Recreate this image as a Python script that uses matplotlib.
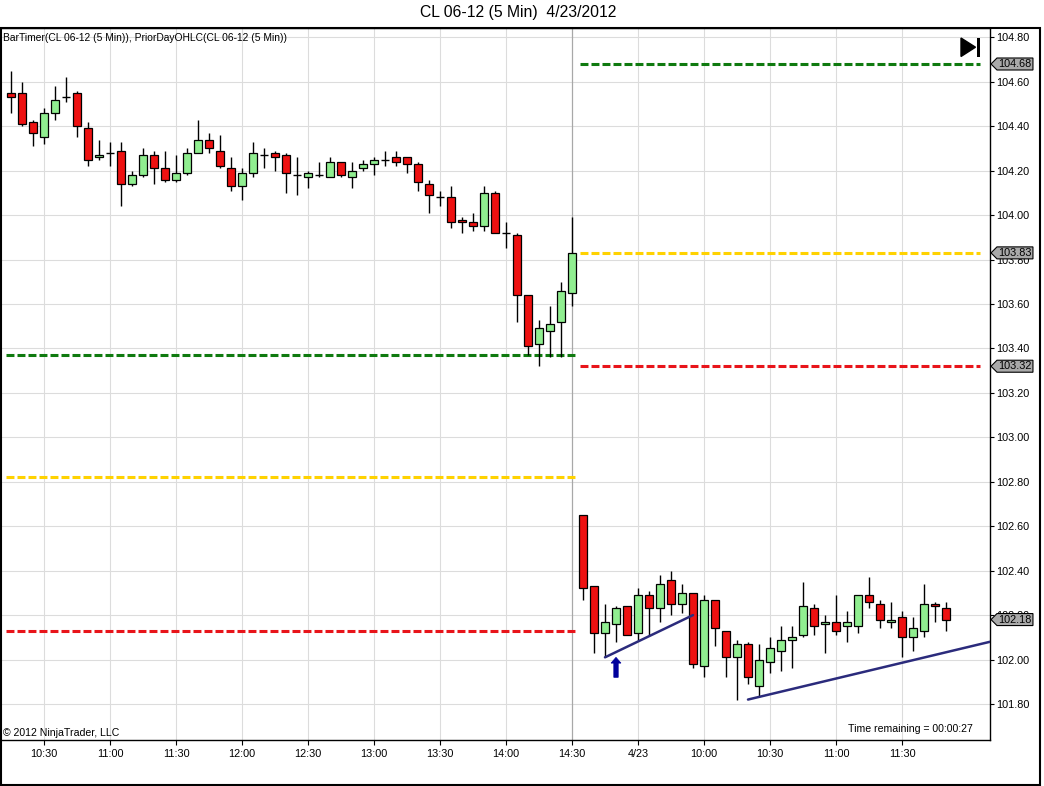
import matplotlib
matplotlib.use("Agg")
import matplotlib.pyplot as plt
import matplotlib.transforms as mtransforms
from matplotlib.patches import Polygon, Rectangle

plt.rcParams['font.family'] = ['Liberation Sans', 'DejaVu Sans']

W, H = 1044, 786

# CL 06-12, 5 min bars: 4/20 from 10:15 to 14:30, 4/23 from 9:05 to 11:50
opens = [104.55, 104.55, 104.42, 104.35, 104.46, 104.53, 104.55, 104.39, 104.26, 104.28,
         104.29, 104.14, 104.18, 104.27, 104.21, 104.16, 104.19, 104.28, 104.34, 104.29,
         104.21, 104.13, 104.19, 104.27, 104.28, 104.27, 104.18, 104.17, 104.18, 104.17,
         104.24, 104.17, 104.21, 104.23, 104.25, 104.26, 104.26, 104.23, 104.14, 104.08,
         104.08, 103.98, 103.97, 103.95, 104.10, 103.92, 103.91, 103.64, 103.42, 103.48,
         103.52, 103.65,
         102.65, 102.33, 102.12, 102.16, 102.24, 102.12, 102.29, 102.23, 102.36, 102.25,
         102.30, 101.97, 102.27, 102.13, 102.01, 102.07, 101.88, 101.99, 102.04, 102.09,
         102.11, 102.23, 102.16, 102.17, 102.15, 102.15, 102.29, 102.25, 102.17, 102.19,
         102.10, 102.13, 102.25, 102.23]
highs = [104.65, 104.60, 104.43, 104.48, 104.58, 104.62, 104.56, 104.42, 104.34, 104.33,
         104.33, 104.20, 104.30, 104.29, 104.29, 104.27, 104.30, 104.43, 104.37, 104.36,
         104.26, 104.21, 104.33, 104.30, 104.29, 104.28, 104.26, 104.20, 104.24, 104.26,
         104.24, 104.24, 104.25, 104.26, 104.29, 104.29, 104.26, 104.24, 104.16, 104.11,
         104.13, 103.99, 104.01, 104.13, 104.11, 103.97, 103.92, 103.64, 103.53, 103.59,
         103.70, 103.99,
         102.65, 102.33, 102.25, 102.24, 102.24, 102.32, 102.31, 102.38, 102.40, 102.34,
         102.30, 102.29, 102.27, 102.13, 102.09, 102.08, 102.07, 102.10, 102.15, 102.15,
         102.35, 102.25, 102.20, 102.29, 102.22, 102.29, 102.37, 102.27, 102.26, 102.22,
         102.19, 102.34, 102.26, 102.26]
lows = [104.46, 104.40, 104.31, 104.32, 104.43, 104.51, 104.35, 104.22, 104.25, 104.22,
        104.04, 104.13, 104.17, 104.14, 104.15, 104.15, 104.18, 104.28, 104.28, 104.21,
        104.11, 104.07, 104.17, 104.21, 104.20, 104.10, 104.09, 104.12, 104.17, 104.17,
        104.17, 104.12, 104.20, 104.18, 104.22, 104.22, 104.19, 104.11, 104.01, 104.04,
        103.94, 103.92, 103.93, 103.93, 103.92, 103.85, 103.52, 103.37, 103.32, 103.36,
        103.36, 103.59,
        102.27, 102.03, 102.01, 102.08, 102.11, 102.09, 102.11, 102.17, 102.20, 102.21,
        101.96, 101.92, 102.06, 101.92, 101.82, 101.89, 101.83, 101.94, 101.95, 101.96,
        102.10, 102.11, 102.03, 102.11, 102.08, 102.12, 102.23, 102.14, 102.14, 102.01,
        102.04, 102.10, 102.17, 102.13]
closes = [104.53, 104.41, 104.37, 104.46, 104.52, 104.53, 104.40, 104.25, 104.27, 104.28,
          104.14, 104.18, 104.27, 104.21, 104.16, 104.19, 104.28, 104.34, 104.30, 104.22,
          104.13, 104.19, 104.28, 104.27, 104.26, 104.19, 104.18, 104.19, 104.18, 104.24,
          104.18, 104.20, 104.23, 104.25, 104.25, 104.24, 104.23, 104.15, 104.09, 104.08,
          103.97, 103.97, 103.95, 104.10, 103.92, 103.92, 103.64, 103.41, 103.49, 103.51,
          103.66, 103.83,
          102.32, 102.12, 102.17, 102.23, 102.11, 102.29, 102.23, 102.34, 102.25, 102.30,
          101.98, 102.27, 102.14, 102.01, 102.07, 101.92, 102.00, 102.05, 102.09, 102.10,
          102.24, 102.15, 102.17, 102.13, 102.17, 102.29, 102.26, 102.18, 102.18, 102.10,
          102.14, 102.25, 102.24, 102.18]

tick_bars = [3, 9, 15, 21, 27, 33, 39, 45, 51, 57, 63, 69, 75, 81]
tick_labels = ["10:30", "11:00", "11:30", "12:00", "12:30", "13:00", "13:30",
               "14:00", "14:30", "4/23", "10:00", "10:30", "11:00", "11:30"]
session_break = 51

# PriorDayOHLC levels (high, close, low) for each session
prior_high = [103.37, 104.68]
prior_close = [102.82, 103.83]
prior_low = [102.13, 103.32]
level_spans = [(-0.5, 51.45), (51.7, 88.1)]

# drawn trend lines and the arrow
trend_lines = [((54, 102.01), (62, 102.20)), ((67, 101.82), (89, 102.08))]
arrow_bar, arrow_tip, arrow_base = 55, 102.01, 101.92

price_marks = [104.68, 103.83, 103.32, 102.18]
y_ticks = [101.80 + 0.2 * k for k in range(16)]

fig = plt.figure(figsize=(W / 100, H / 100), dpi=100)
ax = fig.add_axes([1 / W, 1 - 740 / H, 989 / W, 712 / H])
ax.set_xlim(-0.91, 89.0)
ax.set_ylim(101.638, 104.842)

# grid
for yv in y_ticks:
    ax.axhline(yv, color='#dcdcdc', lw=0.8, zorder=0)
for xb in tick_bars:
    ax.axvline(xb, color='#a8a8a8' if xb == session_break else '#dcdcdc',
               lw=0.9 if xb == session_break else 0.8, zorder=0)

# prior day levels
for k, (x0, x1) in enumerate(level_spans):
    for val, col in ((prior_high[k], '#0f7a0f'), (prior_close[k], '#ffd200'), (prior_low[k], '#e8141a')):
        ax.plot([x0, x1], [val, val], color=col, lw=2.2, dashes=(2.6, 1.0),
                solid_capstyle='butt', dash_capstyle='butt', zorder=1)

# candles
bw = 0.72
for i, (o, h, l, c) in enumerate(zip(opens, highs, lows, closes)):
    ax.vlines(i, l, h, color='black', lw=1, zorder=2)
    if abs(c - o) < 0.001:
        ax.hlines(o, i - bw / 2, i + bw / 2, color='black', lw=1, zorder=3)
    else:
        col = '#90ee90' if c > o else '#ee1111'
        ax.add_patch(Rectangle((i - bw / 2, min(o, c)), bw, abs(c - o),
                               facecolor=col, edgecolor='black', lw=0.9, zorder=3))

for (x0, y0), (x1, y1) in trend_lines:
    ax.plot([x0, x1], [y0, y1], color='#2b2b7c', lw=1.8, zorder=4, solid_capstyle='round')

hw, sw, hl = 0.45, 0.2, 0.026
ax.add_patch(Polygon([(arrow_bar, arrow_tip), (arrow_bar + hw, arrow_tip - hl),
                      (arrow_bar + sw, arrow_tip - hl), (arrow_bar + sw, arrow_base),
                      (arrow_bar - sw, arrow_base), (arrow_bar - sw, arrow_tip - hl),
                      (arrow_bar - hw, arrow_tip - hl)],
                     closed=True, facecolor='#00009c', edgecolor='#00009c', lw=0.5, zorder=4))

# axes styling
ax.yaxis.tick_right()
ax.set_yticks(y_ticks)
ax.set_yticklabels([f"{v:.2f}" for v in y_ticks])
ax.set_xticks(tick_bars)
ax.set_xticklabels(tick_labels)
ax.tick_params(axis='y', direction='out', length=3, width=0.8, pad=1.5, labelsize=7.8)
ax.tick_params(axis='x', direction='out', length=3.5, width=0.8, pad=3, labelsize=7.8)
for s in ax.spines.values():
    s.set_linewidth(1)
ax.spines['left'].set_visible(False)

# price markers on the right axis
blend = mtransforms.blended_transform_factory(ax.transAxes, ax.transData)
dy = 6 / 222.2
for pm in price_marks:
    x_tip, x_l, x_r = 991 / 990, 997 / 990, 1033 / 990
    ax.add_patch(Polygon([(x_tip, pm), (x_l, pm + dy), (x_r, pm + dy), (x_r, pm - dy), (x_l, pm - dy)],
                         closed=True, transform=blend, clip_on=False,
                         facecolor='#a9a9a9', edgecolor='black', lw=0.8, zorder=6))
    ax.text(1015 / 990, pm, f"{pm:.2f}", transform=blend, ha='center', va='center',
            fontsize=7.8, clip_on=False, zorder=7)


def fp(x, y):
    return (x / W, 1 - y / H)


# "jump to last bar" icon
fig.patches.append(Polygon([fp(961, 38), fp(961, 56.5), fp(975.5, 47.2)], closed=True,
                           transform=fig.transFigure, facecolor='black', edgecolor='black'))
fig.patches.append(Rectangle(fp(976.5, 56.5), 3.5 / W, 18.5 / H, transform=fig.transFigure,
                             facecolor='black', edgecolor='none'))

# outer frame
fig.patches.append(Rectangle(fp(0.5, 784.5), 1039.5 / W, 756.5 / H, transform=fig.transFigure,
                             fill=False, edgecolor='black', lw=1.5))

fig.text(*fp(518, 13), "CL 06-12 (5 Min)  4/23/2012", ha='center', va='center', fontsize=11.3)
fig.text(*fp(3, 38), "BarTimer(CL 06-12 (5 Min)), PriorDayOHLC(CL 06-12 (5 Min))",
         ha='left', va='center', fontsize=7.4)
fig.text(*fp(3, 733), "\u00a9 2012 NinjaTrader, LLC", ha='left', va='center', fontsize=7.6)
fig.text(*fp(973, 729), "Time remaining = 00:00:27", ha='right', va='center', fontsize=7.6)

fig.savefig("out.png", dpi=100)
